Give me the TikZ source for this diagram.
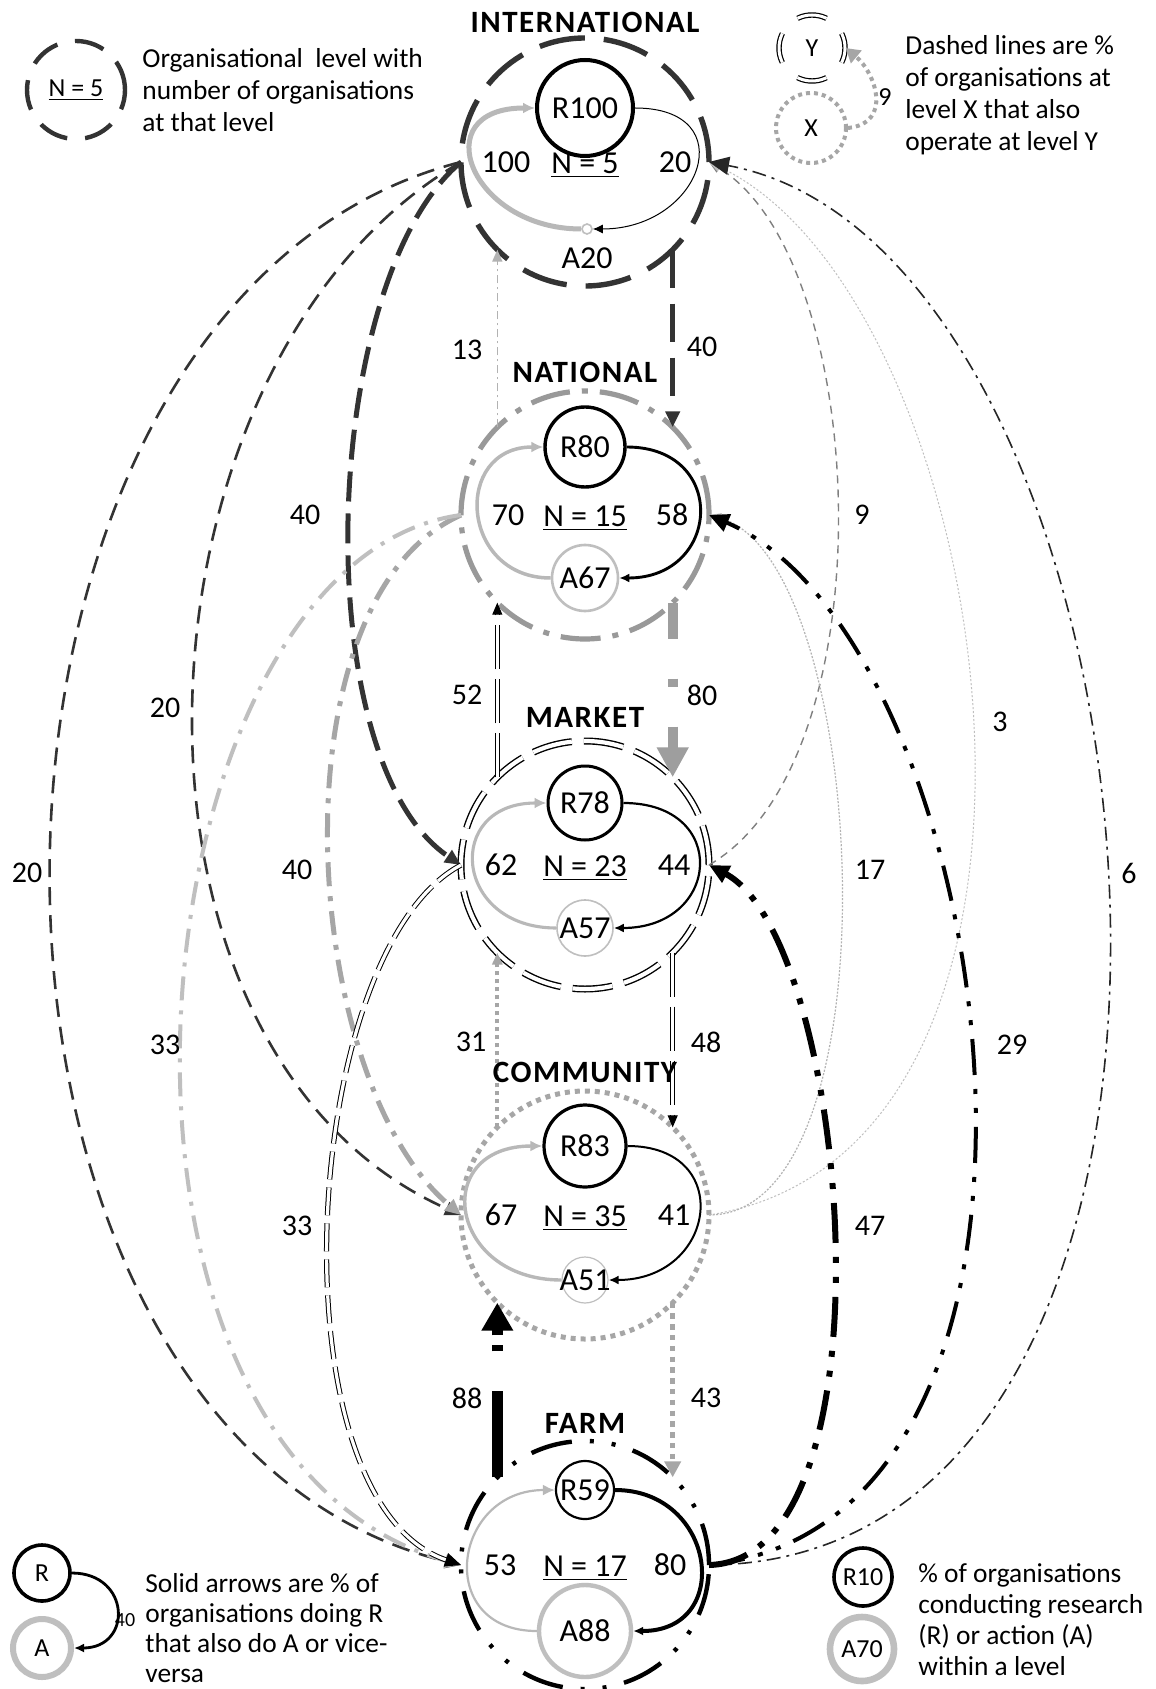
\documentclass[tikz,border=0pt]{standalone}
\usepackage{fontspec}
\setmainfont{Carlito}
\newfontfamily\ttlfont[LetterSpace=5]{Carlito}
\usetikzlibrary{positioning,arrows.meta}

\begin{document}
\begin{tikzpicture}[
  x=0.5pt, y=-0.5pt,
  every node/.style={font=\fontsize{15pt}{17pt}\selectfont},
  lvl/.style={circle,minimum size=124pt,inner sep=0pt,outer sep=0pt},
  ttl/.style={font=\fontsize{15.5pt}{17pt}\ttlfont\bfseries},
  inr/.style={font=\fontsize{16pt}{18pt}\selectfont},
  rnode/.style={circle,draw=black,inner sep=0pt,inr},
  anode/.style={circle,draw=black!25,inner sep=0pt,inr},
  txt/.style={align=left,inner sep=0pt,anchor=west,font=\fontsize{13.7pt}{16pt}\selectfont},
  intlline/.style={draw=black!80,dash pattern=on 23pt off 9.5pt},
  natlline/.style={draw=black!40,dash pattern=on 20pt off 6pt on 3pt off 6pt},
  mktline/.style={draw=black,double,dash pattern=on 20pt off 6pt},
  commline/.style={draw=black!35,dash pattern=on 2.5pt off 2.5pt},
  farmline/.style={draw=black,dash pattern=on 21pt off 9pt on 2pt off 9pt on 2pt off 9pt},
  rarc/.style={draw=black,-{Latex[length=5pt,width=4.5pt]}},
  aarc/.style={draw=black!28,-{Latex[length=6pt,width=5.5pt]}},
  arrS/.style={-{Triangle[length=6pt,width=5pt]}},
  arrM/.style={-{Triangle[length=8pt,width=7pt]}},
  arrL/.style={-{Triangle[length=10pt,width=9pt]}},
]
\path[fill=white,use as bounding box] (0,0) rectangle (1155,1689);

\node[lvl,intlline,line width=2.7pt] (intl) at (585,162) {};
\node[lvl,natlline,line width=2.6pt] (natl) at (585,515) {};
\node[lvl,mktline,line width=0.7pt,double distance=2.1pt] (mkt) at (585,865) {};
\node[lvl,commline,line width=2.5pt] (comm) at (585,1215) {};
\node[lvl,farmline,line width=2.2pt] (farm) at (585,1565) {};

\draw[intlline,line width=2.5pt,dash pattern=on 19pt off 8pt,arrM] (intl.south east) -- (natl.north east);
\draw[natlline,draw=black!30,line width=0.8pt,dash pattern=on 4pt off 2pt on 1pt off 2pt,arrS] (natl.north west) -- (intl.south west);
\draw[mktline,line width=0.5pt,double distance=1.6pt,dash pattern=on 22pt off 5pt,arrS] (mkt.north west) -- (natl.south west);
\draw[natlline,draw=black!38,line width=5pt,dash pattern=on 18pt off 20pt on 4pt off 20pt,-{Triangle[length=15pt,width=15pt]}] (natl.south east) -- (mkt.north east);
\draw[commline,line width=2pt,dash pattern=on 2pt off 2pt,arrS] (comm.north west) -- (mkt.south west);
\draw[mktline,line width=0.5pt,double distance=1.6pt,dash pattern=on 22pt off 5pt,arrS] (mkt.south east) -- (comm.north east);
\draw[farmline,line width=5.5pt,dash pattern=on 43pt off 20pt on 3pt off 5pt,-{Triangle[length=14pt,width=15pt]}] (farm.north west) -- (comm.south west);
\draw[commline,line width=2.7pt,dash pattern=on 2.7pt off 2.7pt,-{Triangle[length=8pt,width=8pt]}] (comm.south east) -- (farm.north east);

\draw[intlline,line width=2.5pt,dash pattern=on 15pt off 6pt,arrM] (intl.west) .. controls +(-141,118) and +(-156,-105) .. (mkt.west);
\draw[intlline,line width=1.3pt,dash pattern=on 9pt off 5pt,arrM] (intl.west) .. controls +(-341,198) and +(-371,-165) .. (comm.west);
\draw[intlline,line width=1.3pt,dash pattern=on 9pt off 5pt,arrM] (intl.west) .. controls +(-541,138) and +(-551,-135) .. (farm.west);
\draw[natlline,draw=black!35,line width=2.5pt,dash pattern=on 12pt off 5pt on 2.5pt off 5pt,arrM] (natl.west) .. controls +(-191,85) and +(-161,-135) .. (comm.west);
\draw[natlline,draw=black!25,line width=2pt,dash pattern=on 12pt off 5pt on 2pt off 5pt,arrM] (natl.west) .. controls +(-331,45) and +(-411,-115) .. (farm.west);
\draw[mktline,line width=0.5pt,double distance=1.6pt,dash pattern=on 14pt off 4pt,arrM] (mkt.west) .. controls +(-161,85) and +(-191,-65) .. (farm.west);

\draw[draw=black!50,line width=0.7pt,dash pattern=on 4pt off 3pt,arrS] (mkt.east) .. controls +(181,-105) and +(161,98) .. (intl.east);
\draw[draw=black!25,line width=0.5pt,dash pattern=on 1pt off 1pt,arrS] (comm.east) .. controls +(411,-65) and +(291,138) .. (intl.east);
\draw[draw=black!85,line width=0.8pt,dash pattern=on 7pt off 3pt on 1.5pt off 3pt,arrL] (farm.east) .. controls +(591,-5) and +(471,88) .. (intl.east);
\draw[draw=black!30,line width=0.6pt,dash pattern=on 1pt off 0.8pt,arrS] (comm.east) .. controls +(191,0) and +(161,45) .. (natl.east);
\draw[farmline,line width=2pt,dash pattern=on 18pt off 7pt on 2.5pt off 7pt on 2.5pt off 7pt,arrL] (farm.east) .. controls +(411,-45) and +(291,125) .. (natl.east);
\draw[farmline,line width=3pt,dash pattern=on 20pt off 7pt on 3pt off 7pt on 3pt off 7pt,arrL] (farm.east) .. controls +(191,-5) and +(141,75) .. (mkt.east);

\node (lIN) at (702,347) {40};
\node (lNI) at (467,350) {13};
\node (lMN) at (467,695) {52};
\node (lNM) at (702,695) {80};
\node (lCM) at (471,1042) {31};
\node (lMC) at (706,1042) {48};
\node (lFC) at (467,1398) {88};
\node (lCF) at (706,1398) {43};
\node (lIM) at (305,515) {40};
\node (lIC) at (165,708) {20};
\node (lIF) at (27,873) {20};
\node (lNC) at (297,870) {40};
\node (lNF) at (165,1045) {33};
\node (lMF) at (297,1226) {33};
\node (lMI) at (862,515) {9};
\node (lCI) at (1000,722) {3};
\node (lFI) at (1129,873) {6};
\node (lCN) at (870,870) {17};
\node (lFN) at (1012,1045) {29};
\node (lFM) at (870,1226) {47};

\node[rnode,line width=2pt,minimum size=48pt] (intlR) at (585,108) {\makebox[0pt]{R100}};
\node[anode,line width=0.8pt,minimum size=5pt] (intlA) at (587,229) {};
\node[inr,below=3pt of intlA] (intlAt) {A20};
\draw[rarc,line width=0.5pt] (intlR.east) .. controls +(109,0) and +(109,0) .. (intlA.east);
\draw[aarc,line width=2.5pt] (intlA.west) .. controls +(-111,0) and +(-111,0) .. (intlR.west);
\node[inr] (intlRA) at (675,162) {20};
\node[inr] (intlAR) at (506,162) {100};
\node[inr] (intlN) at (585,165) {\underline{N = 5}};

\node[rnode,line width=1.7pt,minimum size=40pt] (natlR) at (585,447) {\makebox[0pt]{R80}};
\node[anode,line width=1.3pt,minimum size=33pt] (natlA) at (585,578) {\makebox[0pt]{A67}};
\draw[rarc,line width=1.45pt] (natlR.east) .. controls +(102,0) and +(102,0) .. (natlA.east);
\draw[aarc,line width=1.75pt] (natlA.west) .. controls +(-91,0) and +(-91,0) .. (natlR.west);
\node[inr] (natlRA) at (672,515) {58};
\node[inr] (natlAR) at (508,515) {70};
\node[inr] (natlN) at (585,518) {\underline{N = 15}};

\node[rnode,line width=1.5pt,minimum size=37pt] (mktR) at (585,803) {\makebox[0pt]{R78}};
\node[anode,line width=0.8pt,minimum size=28pt] (mktA) at (585,928) {\makebox[0pt]{A57}};
\draw[rarc,line width=1.1pt] (mktR.east) .. controls +(107,0) and +(107,0) .. (mktA.east);
\draw[aarc,line width=1.55pt] (mktA.west) .. controls +(-103,0) and +(-103,0) .. (mktR.west);
\node[inr] (mktRA) at (674,865) {44};
\node[inr] (mktAR) at (501,865) {62};
\node[inr] (mktN) at (585,868) {\underline{N = 23}};

\node[rnode,line width=1.6pt,minimum size=41pt] (commR) at (585,1146) {\makebox[0pt]{R83}};
\node[anode,line width=0.6pt,minimum size=23pt] (commA) at (585,1280) {\makebox[0pt]{A51}};
\draw[rarc,line width=1pt] (commR.east) .. controls +(108,0) and +(108,0) .. (commA.east);
\draw[aarc,line width=1.7pt] (commA.west) .. controls +(-113,0) and +(-113,0) .. (commR.west);
\node[inr] (commRA) at (674,1215) {41};
\node[inr] (commAR) at (501,1215) {67};
\node[inr] (commN) at (585,1218) {\underline{N = 35}};

\node[rnode,line width=1.1pt,minimum size=29pt] (farmR) at (585,1490) {\makebox[0pt]{R59}};
\node[anode,line width=2.2pt,minimum size=46pt] (farmA) at (585,1631) {\makebox[0pt]{A88}};
\draw[rarc,line width=2pt] (farmR.east) .. controls +(101,0) and +(101,0) .. (farmA.east);
\draw[aarc,line width=1.1pt] (farmA.west) .. controls +(-103,0) and +(-103,0) .. (farmR.west);
\node[inr] (farmRA) at (670,1565) {80};
\node[inr] (farmAR) at (500,1565) {53};
\node[inr] (farmN) at (585,1568) {\underline{N = 17}};

\node[ttl] (intlT) at (585,22) {INTERNATIONAL};
\node[ttl] (natlT) at (585,372) {NATIONAL};
\node[ttl] (mktT) at (585,717) {MARKET};
\node[ttl] (commT) at (585,1072) {COMMUNITY};
\node[ttl] (farmT) at (585,1423) {FARM};

\node[circle,intlline,line width=2.2pt,dash pattern=on 15pt off 9pt,minimum size=49pt,inner sep=0pt,font=\fontsize{13pt}{15pt}\selectfont] (keyN) at (76,90) {\underline{N = 5}};
\node[txt] (keyNt) at (142,90) {Organisational\ \ level with\\number of organisations\\at that level};

\node[circle,mktline,line width=0.6pt,double distance=1.5pt,dash pattern=on 15pt off 10.9pt,dash phase=7.5pt,minimum size=33pt,inner sep=0pt,font=\fontsize{13pt}{15pt}\selectfont] (keyY) at (812,48) {Y};
\node[circle,commline,line width=2pt,dash pattern=on 2pt off 2pt,minimum size=35pt,inner sep=0pt,font=\fontsize{13pt}{15pt}\selectfont] (keyX) at (811,128) {X};
\draw[commline,line width=2pt,dash pattern=on 2pt off 2pt,-{Triangle[length=7pt,width=8pt]}] (keyX.east) .. controls +(45,-5) and +(30,25) .. (keyY.east);
\node[font=\fontsize{13pt}{15pt}\selectfont] (keyXY) at (885,97) {9};
\node[txt] (keyYt) at (905,95) {Dashed lines are \%\\of organisations at\\level X that also\\operate at level Y};

\node[rnode,line width=1.8pt,minimum size=28pt,font=\fontsize{13pt}{15pt}\selectfont] (keyR) at (42,1573) {R};
\node[anode,line width=3pt,minimum size=29pt,font=\fontsize{13pt}{15pt}\selectfont] (keyA) at (42,1648) {A};
\draw[rarc,line width=1.4pt] (keyR.east) .. controls +(59,0) and +(59,0) .. (keyA.east);
\node[font=\fontsize{10pt}{12pt}\selectfont] (keyRA) at (125,1620) {40};
\node[txt,font=\fontsize{13.7pt}{15pt}\selectfont] (keyRt) at (145,1628) {Solid arrows are \% of\\organisations doing R\\that also do A or vice-\\versa};

\node[rnode,line width=1.8pt,minimum size=29pt,font=\fontsize{13pt}{15pt}\selectfont] (keyR10) at (863,1577) {\makebox[0pt]{R10}};
\node[anode,line width=3.3pt,minimum size=32pt,font=\fontsize{13pt}{15pt}\selectfont] (keyA70) at (862,1649) {\makebox[0pt]{A70}};
\node[txt,font=\fontsize{13.7pt}{15.5pt}\selectfont] (keyRAt) at (918,1620) {\% of organisations\\conducting research\\(R) or action (A)\\within a level};
\end{tikzpicture}
\end{document}
